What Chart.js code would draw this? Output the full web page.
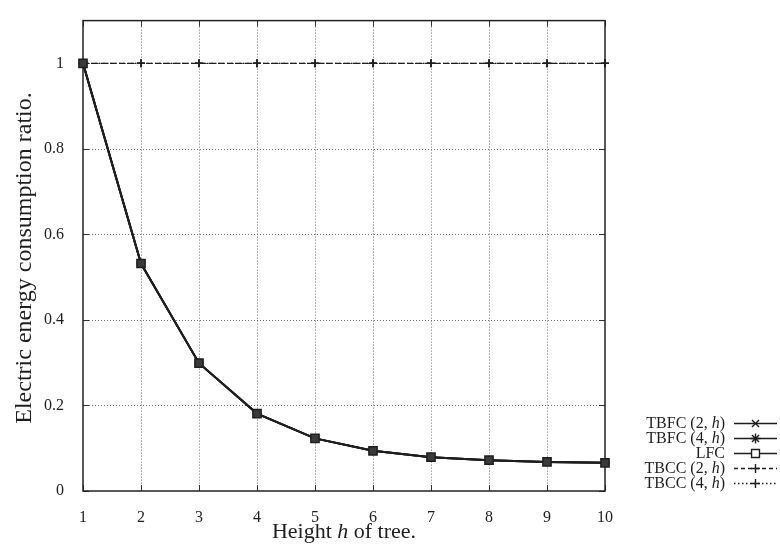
<!DOCTYPE html>
<html>
<head>
<meta charset="utf-8">
<script src="https://cdn.jsdelivr.net/npm/chart.js@4.4.1/dist/chart.umd.min.js"></script>
<style>
  html, body { margin: 0; padding: 0; background: #ffffff; }
  #wrap { width: 780px; height: 547px; position: relative; }
</style>
</head>
<body>
<div id="wrap"><canvas id="c" width="780" height="547"></canvas></div>
<script>
// ---- data ----
const heights = [1, 2, 3, 4, 5, 6, 7, 8, 9, 10];
const tbfc2 = [1, 0.532, 0.299, 0.181, 0.123, 0.094, 0.079, 0.072, 0.068, 0.066];
const tbfc4 = [1, 0.532, 0.299, 0.181, 0.123, 0.094, 0.079, 0.072, 0.068, 0.066];
const lfc   = [1, 0.532, 0.299, 0.181, 0.123, 0.094, 0.079, 0.072, 0.068, 0.066];
const tbcc2 = [1, 1, 1, 1, 1, 1, 1, 1, 1, 1];
const tbcc4 = [1, 1, 1, 1, 1, 1, 1, 1, 1, 1];
const seriesNames = ['TBFC (2, h)', 'TBFC (4, h)', 'LFC', 'TBCC (2, h)', 'TBCC (4, h)'];
const xTicks = [1, 2, 3, 4, 5, 6, 7, 8, 9, 10];
const yTicks = [0, 0.2, 0.4, 0.6, 0.8, 1];
const xTitle = 'Height h of tree.';
const yTitle = 'Electric energy consumption ratio.';

const SERIF = "'Liberation Serif', 'DejaVu Serif', 'Times New Roman', serif";
const INK = '#1e1e1e';

const pts = arr => heights.map((h, i) => ({ x: h, y: arr[i] }));

// legend sample style per series
const legendStyle = [
  { dash: [], marker: 'crossRot', r: 5 },
  { dash: [], marker: 'star', r: 5 },
  { dash: [], marker: 'rect', r: 5.6 },
  { dash: [4, 3], marker: 'cross', r: 4.5 },
  { dash: [1.5, 2.5], marker: 'cross', r: 4.5 }
];

// draw text where the letter "h" surrounded by spaces / parens is italic
function richSegments(text) {
  const segs = [];
  const re = /(^|[\s(])h(?=[\s)])/g;
  let last = 0, m;
  while ((m = re.exec(text)) !== null) {
    const idx = m.index + m[1].length;
    segs.push({ t: text.slice(last, idx), it: false });
    segs.push({ t: 'h', it: true });
    last = idx + 1;
  }
  segs.push({ t: text.slice(last), it: false });
  return segs.filter(s => s.t.length);
}
function drawRich(ctx, text, x, y, size, align) {
  const segs = richSegments(text);
  let total = 0;
  segs.forEach(s => {
    ctx.font = (s.it ? 'italic ' : '') + size + 'px ' + SERIF;
    s.w = ctx.measureText(s.t).width;
    total += s.w;
  });
  let cx = align === 'right' ? x - total : (align === 'center' ? x - total / 2 : x);
  ctx.textAlign = 'left';
  segs.forEach(s => {
    ctx.font = (s.it ? 'italic ' : '') + size + 'px ' + SERIF;
    ctx.fillText(s.t, cx, y);
    cx += s.w;
  });
}

const framePlugin = {
  id: 'gnuplotFrame',
  beforeDatasetsDraw(chart) {
    const { ctx, chartArea: a, scales } = chart;
    const xs = scales.x, ys = scales.y;
    ctx.save();
    // dotted grid
    ctx.strokeStyle = '#6e6e6e';
    ctx.lineWidth = 1;
    ctx.setLineDash([1, 2]);
    xTicks.forEach(v => {
      const px = Math.round(xs.getPixelForValue(v)) + 0.5;
      if (px <= a.left + 1 || px >= a.right - 1) return;
      ctx.beginPath(); ctx.moveTo(px, a.top); ctx.lineTo(px, a.bottom); ctx.stroke();
    });
    yTicks.forEach(v => {
      const py = Math.round(ys.getPixelForValue(v)) + 0.5;
      if (py <= a.top + 1 || py >= a.bottom - 1) return;
      ctx.beginPath(); ctx.moveTo(a.left, py); ctx.lineTo(a.right, py); ctx.stroke();
    });
    ctx.setLineDash([]);
    // inward ticks on all four sides
    ctx.strokeStyle = '#333';
    ctx.lineWidth = 1;
    const tl = 6;
    xTicks.forEach(v => {
      const px = Math.round(xs.getPixelForValue(v)) + 0.5;
      ctx.beginPath();
      ctx.moveTo(px, a.bottom); ctx.lineTo(px, a.bottom - tl);
      ctx.moveTo(px, a.top); ctx.lineTo(px, a.top + tl);
      ctx.stroke();
    });
    yTicks.forEach(v => {
      const py = Math.round(ys.getPixelForValue(v)) + 0.5;
      ctx.beginPath();
      ctx.moveTo(a.left, py); ctx.lineTo(a.left + tl, py);
      ctx.moveTo(a.right, py); ctx.lineTo(a.right - tl, py);
      ctx.stroke();
    });
    // frame
    ctx.strokeStyle = '#222';
    ctx.lineWidth = 1.5;
    ctx.strokeRect(a.left, a.top, a.right - a.left, a.bottom - a.top);
    ctx.restore();
  },
  afterDraw(chart) {
    const { ctx, chartArea: a } = chart;
    ctx.save();
    ctx.fillStyle = INK;
    ctx.textBaseline = 'alphabetic';
    // x axis title
    drawRich(ctx, xTitle, (a.left + a.right) / 2, 538, 22, 'center');
    // y axis title
    ctx.save();
    ctx.translate(31, 258);
    ctx.rotate(-Math.PI / 2);
    ctx.font = '24px ' + SERIF;
    ctx.textAlign = 'center';
    ctx.fillText(yTitle, 0, 0);
    ctx.restore();
    // legend
    const rows = [423, 438, 453, 468, 483];
    chart.data.datasets.forEach((ds, i) => {
      const y = rows[i];
      ctx.fillStyle = INK;
      ctx.textBaseline = 'middle';
      drawRich(ctx, ds.label, 725, y + 1, 16, 'right');
      const st = legendStyle[i];
      ctx.strokeStyle = '#1e1e1e';
      ctx.lineWidth = i < 3 ? 1.6 : 1.3;
      ctx.setLineDash(st.dash);
      ctx.beginPath(); ctx.moveTo(734, y + 0.5); ctx.lineTo(777, y + 0.5); ctx.stroke();
      ctx.setLineDash([]);
      ctx.lineWidth = 1.4;
      ctx.fillStyle = '#ffffff';
      Chart.helpers.drawPoint(ctx, {
        pointStyle: st.marker, radius: st.r,
        borderWidth: 1.4, rotation: 0
      }, 755.5, y + 0.5);
    });
    ctx.restore();
  }
};

const commonLine = { clip: false, tension: 0, fill: false };

new Chart(document.getElementById('c'), {
  type: 'line',
  data: {
    datasets: [
      Object.assign({
        label: seriesNames[0], data: pts(tbfc2), borderColor: '#1e1e1e', borderWidth: 2,
        pointStyle: 'crossRot', pointRadius: 4.5, pointBorderWidth: 1.5,
        pointBorderColor: '#1e1e1e', pointBackgroundColor: 'rgba(0,0,0,0)', order: 3
      }, commonLine),
      Object.assign({
        label: seriesNames[1], data: pts(tbfc4), borderColor: '#1e1e1e', borderWidth: 2,
        pointStyle: 'star', pointRadius: 4.5, pointBorderWidth: 1.5,
        pointBorderColor: '#1e1e1e', pointBackgroundColor: 'rgba(0,0,0,0)', order: 2
      }, commonLine),
      Object.assign({
        label: seriesNames[2], data: pts(lfc), borderColor: '#1e1e1e', borderWidth: 2,
        pointStyle: 'rect', pointRadius: 5.8, pointBorderWidth: 1.5,
        pointBorderColor: '#1e1e1e', pointBackgroundColor: '#3a3a3a', order: 1
      }, commonLine),
      Object.assign({
        label: seriesNames[3], data: pts(tbcc2), borderColor: '#1e1e1e', borderWidth: 1.4,
        borderDash: [6, 3], pointStyle: 'cross', pointRadius: 4, pointBorderWidth: 1.5,
        pointBorderColor: '#1e1e1e', order: 5
      }, commonLine),
      Object.assign({
        label: seriesNames[4], data: pts(tbcc4), borderColor: '#1e1e1e', borderWidth: 1.4,
        borderDash: [1.5, 2.5], pointStyle: 'cross', pointRadius: 4, pointBorderWidth: 1.5,
        pointBorderColor: '#1e1e1e', order: 4
      }, commonLine)
    ]
  },
  options: {
    responsive: false,
    animation: false,
    devicePixelRatio: 1,
    layout: { padding: { left: 0, right: 175, top: 6, bottom: 0 } },
    plugins: { legend: { display: false }, tooltip: { enabled: false }, title: { display: false } },
    scales: {
      x: {
        type: 'linear', min: 1, max: 10,
        grid: { display: false },
        border: { display: false },
        afterFit(s) { s.height = 56; },
        afterBuildTicks(s) { s.ticks = xTicks.map(v => ({ value: v })); },
        ticks: {
          padding: 9, color: INK, maxRotation: 0, autoSkip: false,
          font: { family: SERIF, size: 16 },
          callback: v => String(v)
        }
      },
      y: {
        type: 'linear', min: 0, max: 1.1,
        grid: { display: false },
        border: { display: false },
        afterFit(s) { s.width = 83; },
        afterBuildTicks(s) { s.ticks = yTicks.map(v => ({ value: v })); },
        ticks: {
          padding: 11, color: INK,
          font: { family: SERIF, size: 16 },
          callback: v => String(+Number(v).toFixed(1))
        }
      }
    }
  },
  plugins: [framePlugin]
});
</script>
</body>
</html>
